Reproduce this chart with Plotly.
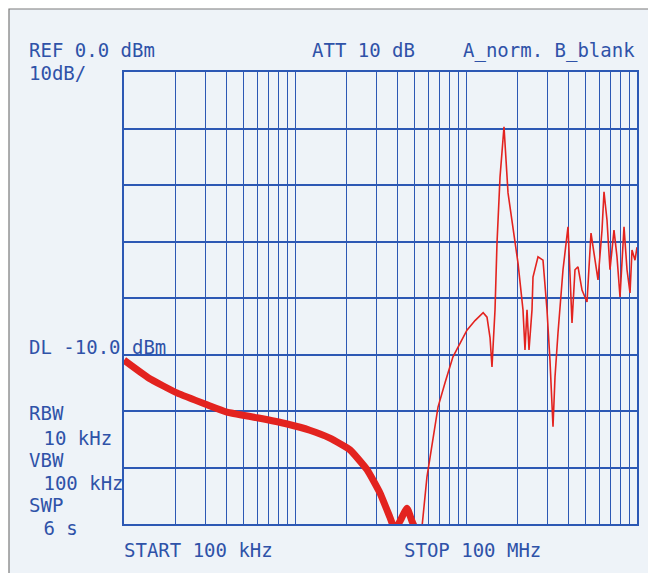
import plotly.graph_objects as go

# ---- data (frequency in MHz, level in dBm) ----
freq_low = [0.10, 0.14, 0.204, 0.306, 0.40, 0.60, 0.90, 1.22, 1.60, 2.10, 2.64, 3.14, 3.59, 3.84, 4.11, 4.52, 4.83, 5.17]
level_low = [-51.0, -54.2, -56.8, -58.9, -60.2, -61.2, -62.3, -63.4, -64.8, -66.9, -70.4, -74.5, -78.8, -81.0, -79.5, -77.2, -79.5, -81.5]

freq_high = [5.17, 5.53, 5.91, 6.41, 6.86, 7.54, 8.39, 10.13, 11.29, 12.60, 13.27, 13.82, 14.19, 14.78, 15.18, 15.81,
             16.68, 17.61, 18.83, 20.14, 21.54, 22.13, 22.74, 23.36, 24.32, 24.65, 26.37, 28.20, 29.76,
             30.98, 32.27, 33.15, 34.51, 36.92, 39.49, 40.57, 41.68, 43.39, 45.19, 47.69, 51.01, 53.83,
             56.04, 59.14, 62.42, 64.12, 66.76, 69.51, 73.36, 76.38, 79.55, 83.95, 87.41, 91.02, 93.50,
             97.34, 100.0]
level_high = [-81.0, -80.5, -71.7, -64.6, -59.3, -55.0, -50.4, -45.7, -44.0, -42.6, -43.4, -47.0, -52.2, -42.1, -30.3, -18.6,
              -9.7, -21.4, -27.4, -33.8, -42.1, -49.2, -42.1, -49.2, -42.1, -36.3, -32.7, -33.3, -42.1,
              -51.0, -62.8, -54.0, -46.2, -35.0, -27.4, -35.0, -44.4, -35.0, -34.5, -38.6, -40.7, -28.5,
              -32.0, -36.8, -28.0, -21.2, -26.2, -35.0, -28.0, -32.7, -39.8, -27.4, -35.0, -39.1, -31.5,
              -33.3, -31.0]

grid_freqs = [m * 10 ** e for e in (-1, 0, 1) for m in range(1, 10)] + [100.0]
grid_levels = [0, -10, -20, -30, -40, -50, -60, -70, -80]

texts_left = [
    ("REF 0.0 dBm", 27, 50),
    ("10dB/", 27, 73),
    ("DL -10.0 dBm", 27, 347),
    ("RBW", 27, 413),
    (" 10 kHz", 30, 438),
    ("VBW", 27, 460),
    (" 100 kHz", 30, 483),
    ("SWP", 27, 505),
    (" 6 s", 30, 528),
    ("ATT 10 dB", 310, 50),
    ("START 100 kHz", 122, 550),
    ("STOP 100 MHz", 402, 550),
]
text_right = ("A_norm. B_blank", 637, 50)

# ---- layout geometry (page pixels; page body has an 8px margin) ----
OFF = 8
W, H = 656 - OFF, 573 - OFF
L, R, T, B = 124, 637, 72, 524

def px(x):
    return (x - L) / (R - L)

def py(y):
    return (B - y) / (B - T)

GRID = "#2c58b4"
TXT = "#2f52a8"
RED = "#e3231f"
FONT = "DejaVu Sans Mono"

fig = go.Figure()
fig.add_trace(go.Scatter(x=freq_low, y=level_low, mode="lines",
                         line=dict(color=RED, width=7, shape="spline", smoothing=0.4),
                         hoverinfo="skip", showlegend=False))
fig.add_trace(go.Scatter(x=freq_high, y=level_high, mode="lines",
                         line=dict(color=RED, width=1.6),
                         hoverinfo="skip", showlegend=False))

fig.update_xaxes(type="log", range=[-1, 2], tickvals=grid_freqs, showticklabels=False,
                 ticks="", showgrid=True, gridcolor=GRID, gridwidth=1.3,
                 showline=True, linecolor=GRID, linewidth=1.5, mirror=True, zeroline=False)
fig.update_yaxes(range=[-80, 0], tickvals=grid_levels, showticklabels=False,
                 ticks="", showgrid=True, gridcolor=GRID, gridwidth=1.5,
                 showline=True, linecolor=GRID, linewidth=1.5, mirror=True, zeroline=False)

shapes = [dict(type="rect", xref="paper", yref="paper", layer="below",
               x0=px(9), x1=px(653), y0=py(590), y1=py(9),
               fillcolor="#eef3f8", line=dict(color="#7a7a7a", width=1.2))]

annotations = []
for t, x, y in texts_left:
    annotations.append(dict(text=t, x=px(x), y=py(y), xref="paper", yref="paper",
                            xanchor="left", yanchor="middle", showarrow=False,
                            font=dict(family=FONT, size=19, color=TXT)))
t, x, y = text_right
annotations.append(dict(text=t, x=px(x), y=py(y), xref="paper", yref="paper",
                        xanchor="right", yanchor="middle", showarrow=False,
                        font=dict(family=FONT, size=19, color=TXT)))

fig.update_layout(width=W, height=H,
                  margin=dict(l=L - OFF, r=W - (R - OFF), t=T - OFF, b=H - (B - OFF)),
                  paper_bgcolor="white", plot_bgcolor="rgba(0,0,0,0)",
                  shapes=shapes, annotations=annotations, showlegend=False)

fig.write_html("out.html")
